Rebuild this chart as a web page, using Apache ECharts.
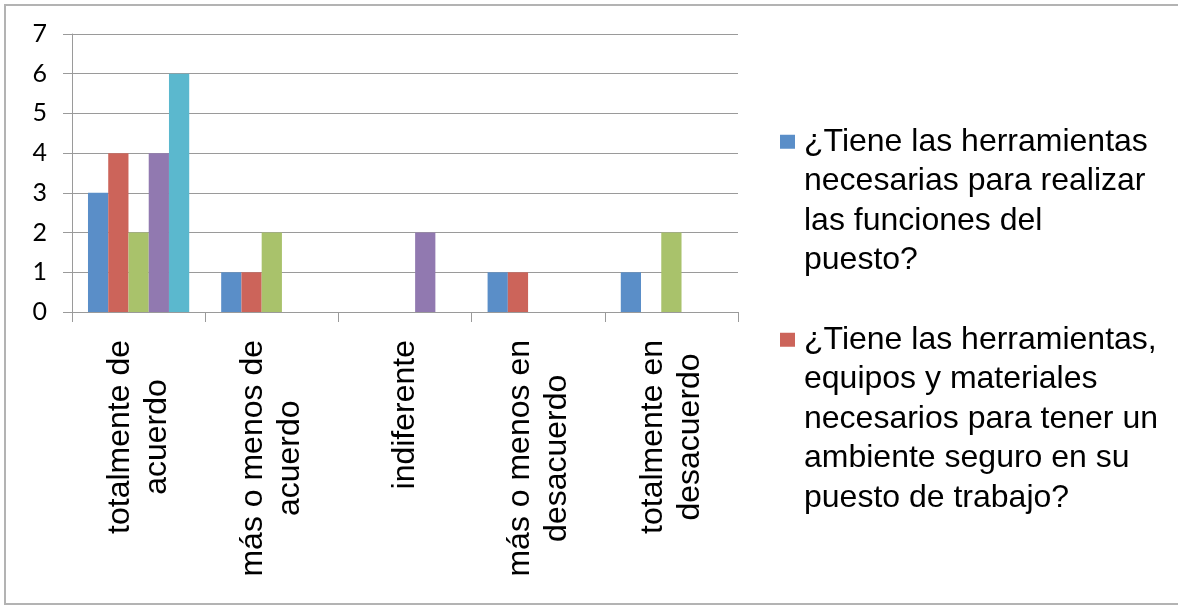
<!DOCTYPE html>
<html>
<head>
<meta charset="utf-8">
<title>Herramientas de trabajo</title>
<script src="https://cdn.jsdelivr.net/npm/echarts@6/dist/echarts.min.js"></script>
<style>
  html, body { margin: 0; padding: 0; background: #ffffff; }
  #chart { width: 1178px; height: 607px; }
</style>
</head>
<body>
<div id="chart"></div>
<script>
// Answer categories (line breaks as shown under the axis)
const categories = [
  'totalmente de\nacuerdo',
  'más o menos de\nacuerdo',
  'indiferente',
  'más o menos en\ndesacuerdo',
  'totalmente en\ndesacuerdo'
];

// Survey questions (one bar series each)
const seriesNames = [
  '¿Tiene las herramientas necesarias para realizar las funciones del puesto?',
  '¿Tiene las herramientas, equipos y materiales necesarios para tener un ambiente seguro en su puesto de trabajo?',
  'Pregunta 3',
  'Pregunta 4',
  'Pregunta 5'
];

// Wrapped legend text for the two listed questions
const legendLines = [
  ['¿Tiene las herramientas', 'necesarias para realizar', 'las funciones del', 'puesto?'],
  ['¿Tiene las herramientas,', 'equipos y materiales', 'necesarios para tener un', 'ambiente seguro en su', 'puesto de trabajo?']
];

// Answer counts per question, in category order
const q1 = [3, 1, 0, 1, 1];
const q2 = [4, 1, 0, 1, 0];
const q3 = [2, 2, 0, 0, 2];
const q4 = [4, 0, 2, 0, 0];
const q5 = [6, 0, 0, 0, 0];
const seriesValues = [q1, q2, q3, q4, q5];

const yTicks = [0, 1, 2, 3, 4, 5, 6, 7];

const colors = ['#5a8ec8', '#cc645a', '#a9c26b', '#9179b0', '#5bb8ce'];
const FONT = "'Liberation Sans', Arial, sans-serif";
const NUM_FONT = "Lato, 'Liberation Sans', sans-serif";
const GRID_GRAY = '#9a9a9a';

const chart = echarts.init(document.getElementById('chart'), null, { renderer: 'canvas' });

const legendRich = {
  s: { width: 9, height: 14 },
  i: { width: 24, height: 14 },
  t: { fontSize: 32, lineHeight: 39.5, color: '#000000', fontFamily: FONT }
};
colors.forEach(function (c, k) {
  legendRich['b' + k] = { width: 15, height: 14, backgroundColor: c };
});

const option = {
  animation: false,
  backgroundColor: '#ffffff',
  color: colors,
  textStyle: { fontFamily: FONT },
  graphic: [{
    type: 'rect',
    shape: { x: 5, y: 5, width: 1200, height: 599 },
    style: { fill: 'none', stroke: '#b3b3b3', lineWidth: 2 },
    silent: true,
    z: -10
  }],
  grid: { left: 72, right: 440, top: 34, bottom: 295, containLabel: false },
  legend: {
    orient: 'vertical',
    left: 769,
    top: 117,
    itemGap: 40,
    icon: 'none',
    itemWidth: 1,
    itemHeight: 1,
    selectedMode: false,
    data: [seriesNames[0], seriesNames[1]],
    formatter: function (name) {
      const idx = seriesNames.indexOf(name);
      return legendLines[idx].map(function (line, j) {
        return (j === 0 ? '{b' + idx + '|}{s|}' : '{i|}') + '{t|' + line + '}';
      }).join('\n');
    },
    textStyle: {
      fontSize: 32,
      lineHeight: 39.5,
      color: '#000000',
      fontFamily: FONT,
      rich: legendRich
    }
  },
  xAxis: {
    type: 'category',
    data: categories,
    axisLine: { show: true, lineStyle: { color: GRID_GRAY, width: 1 } },
    axisTick: { show: true, interval: 0, length: 10, lineStyle: { color: GRID_GRAY } },
    axisLabel: {
      interval: 0,
      rotate: 90,
      margin: 28,
      color: '#000000',
      fontSize: 32,
      lineHeight: 37,
      fontFamily: FONT,
      formatter: function (v) {
        return v.split('\n').map(function (l) { return '{c|' + l + '}'; }).join('\n');
      },
      rich: {
        c: { align: 'center', fontSize: 32, lineHeight: 37, color: '#000000', fontFamily: FONT }
      }
    },
    splitLine: { show: false }
  },
  yAxis: {
    type: 'value',
    min: yTicks[0],
    max: yTicks[yTicks.length - 1],
    interval: 1,
    axisLine: { show: true, lineStyle: { color: GRID_GRAY, width: 1 } },
    axisTick: { show: true, length: 9, lineStyle: { color: GRID_GRAY } },
    axisLabel: { margin: 25, color: '#000000', fontSize: 25, fontFamily: NUM_FONT },
    splitLine: { show: true, lineStyle: { color: GRID_GRAY, width: 1 } }
  },
  series: seriesValues.map(function (vals, k) {
    return {
      name: seriesNames[k],
      type: 'bar',
      data: vals,
      barGap: '0%',
      barCategoryGap: '24%',
      itemStyle: { color: colors[k] }
    };
  })
};

chart.setOption(option);
</script>
</body>
</html>
